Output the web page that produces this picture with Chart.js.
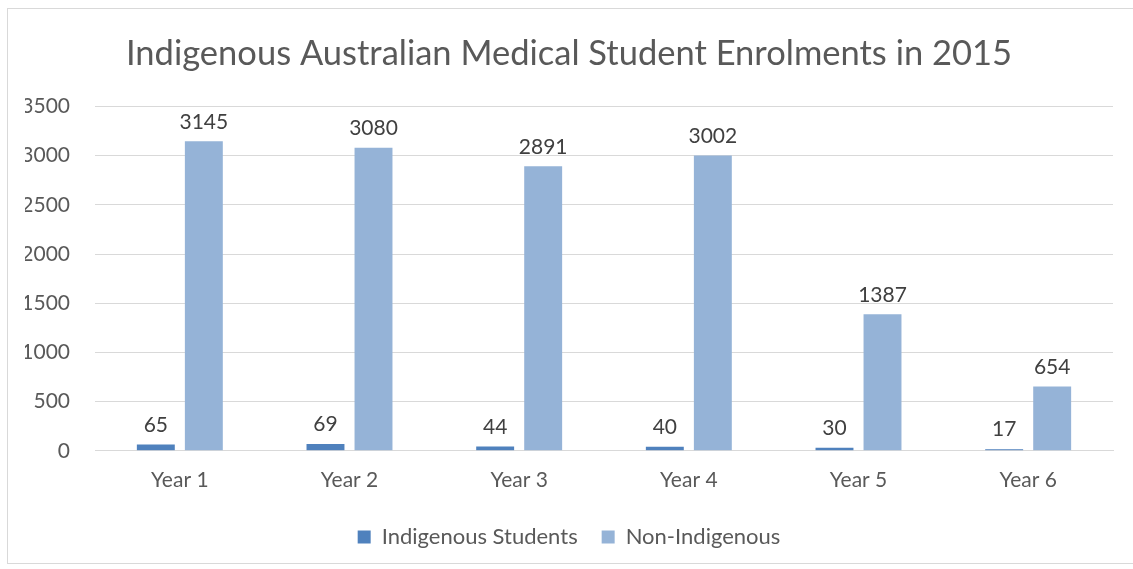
<!DOCTYPE html>
<html>
<head>
<meta charset="utf-8">
<script src="https://cdn.jsdelivr.net/npm/chart.js@4"></script>
<style>
    html, body { margin: 0; padding: 0; background: #fff; }
    #wrap {
        position: absolute; left: 7px; top: 8px;
        width: 1140px; height: 556px;
        border: 1px solid #d9d9d9; box-sizing: border-box;
    }
    #chart { position: absolute; left: 0; top: 0; }
</style>
</head>
<body>
<div id="wrap"><canvas id="chart" width="1140" height="556"></canvas></div>
<script>
const years = ["Year 1", "Year 2", "Year 3", "Year 4", "Year 5", "Year 6"];
const indigenous = [65, 69, 44, 40, 30, 17];
const nonIndigenous = [3145, 3080, 2891, 3002, 1387, 654];
const yTicks = [0, 500, 1000, 1500, 2000, 2500, 3000, 3500];

const fontFamily = "Lato, 'Open Sans', sans-serif";

// simple value labels above each bar
const valueLabels = {
    id: "valueLabels",
    afterDatasetsDraw(chart) {
        const ctx = chart.ctx;
        ctx.save();
        ctx.font = "21px " + fontFamily;
        ctx.fillStyle = "#404040";
        ctx.textAlign = "center";
        ctx.textBaseline = "bottom";
        chart.data.datasets.forEach(function (ds, i) {
            chart.getDatasetMeta(i).data.forEach(function (bar, j) {
                ctx.fillText(String(ds.data[j]), bar.x, bar.y - 9);
            });
        });
        ctx.restore();
    },
};

document.addEventListener("DOMContentLoaded", function () {
    const ctx = document.getElementById("chart").getContext("2d");
    new Chart(ctx, {
        type: "bar",
        data: {
            labels: years,
            datasets: [
                {
                    label: "Indigenous Students",
                    data: indigenous,
                    backgroundColor: "#4f81bd",
                    categoryPercentage: 0.566,
                    barPercentage: 0.79,
                },
                {
                    label: "Non-Indigenous",
                    data: nonIndigenous,
                    backgroundColor: "#95b3d7",
                    categoryPercentage: 0.566,
                    barPercentage: 0.79,
                },
            ],
        },
        options: {
            responsive: false,
            animation: false,
            layout: { padding: { left: 17, right: 35, top: 16, bottom: 7 } },
            plugins: {
                title: {
                    display: true,
                    text: "Indigenous Australian Medical Student Enrolments in 2015",
                    color: "#595959",
                    font: { family: fontFamily, size: 34.5, weight: "normal" },
                    padding: { top: 8, bottom: 32 },
                },
                legend: {
                    position: "bottom",
                    labels: {
                        color: "#595959",
                        font: { family: fontFamily, size: 22 },
                        boxWidth: 13,
                        boxHeight: 13,
                        padding: 24,
                    },
                },
                tooltip: { enabled: false },
            },
            scales: {
                x: {
                    grid: { display: false },
                    border: { color: "#d9d9d9", width: 1 },
                    ticks: {
                        color: "#595959",
                        font: { family: fontFamily, size: 21 },
                        padding: 9,
                    },
                },
                y: {
                    min: 0,
                    max: 3500,
                    afterBuildTicks: function (axis) {
                        axis.ticks = yTicks.map(function (v) { return { value: v }; });
                    },
                    afterFit: function (axis) { axis.width = 70; },
                    grid: { color: "#d9d9d9", drawTicks: false },
                    border: { display: false },
                    ticks: {
                        color: "#595959",
                        font: { family: fontFamily, size: 21 },
                        padding: 25,
                        callback: function (v) { return String(v); },
                    },
                },
            },
        },
        plugins: [valueLabels],
    });
});
</script>
</body>
</html>
